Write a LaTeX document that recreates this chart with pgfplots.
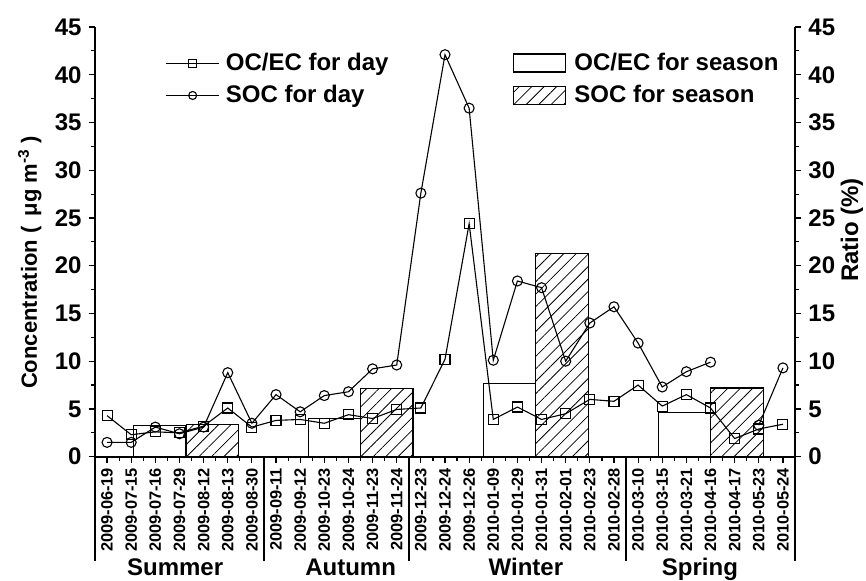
\documentclass[border=0pt]{standalone}
\usepackage{pgfplots}
\pgfplotsset{compat=1.18}
\usepackage{fontspec}
\setmainfont{Liberation Sans}
\usetikzlibrary{patterns.meta}
\begin{document}
\begin{tikzpicture}
\useasboundingbox (-47.5pt,-62.15pt) rectangle (385.5pt,228.35pt);
\pgfplotsset{
  common/.style={
    scale only axis, width=350pt, height=214.85pt,
    at={(0,0)}, anchor=south west,
    xmin=-0.5, xmax=28.5, ymin=0, ymax=45,
    ytick={0,5,...,45}, minor y tick num=1,
    tick align=outside,
    major tick length=3.2pt, minor tick length=2pt,
    tick style={line width=0.6pt, black},
    axis line style={line width=1pt, -},
    yticklabel style={font=\bfseries\fontsize{12}{14}\selectfont},
    /pgf/number format/assume math mode=true,
    clip=false,
  }
}
\begin{axis}[common,
  axis x line*=bottom, axis y line*=left,
  xtick={0,...,28},
  xticklabels={2009-06-19,2009-07-15,2009-07-16,2009-07-29,2009-08-12,2009-08-13,2009-08-30,2009-09-11,2009-09-12,2009-10-23,2009-10-24,2009-11-23,2009-11-24,2009-12-23,2009-12-24,2009-12-26,2010-01-09,2010-01-29,2010-01-31,2010-02-01,2010-02-23,2010-02-28,2010-03-10,2010-03-15,2010-03-21,2010-04-16,2010-04-17,2010-05-23,2010-05-24},
  minor x tick num=1,
  xticklabel style={rotate=90, anchor=east, font=\bfseries\fontsize{8.2}{9}\selectfont, inner sep=2.2pt},
  extra x ticks={-0.5,6.5,12.5,21.5,28.5},
  extra x tick labels={},
  extra x tick style={major tick length=52pt, tick style={line width=1pt}},
  ylabel={Concentration\hspace{0.3em}(\hspace{0.45em}μg m\textsuperscript{-3}\hspace{0.25em})},
  ylabel style={at={(rel axis cs:-0.093,0.452)}, anchor=center, font=\bfseries\fontsize{11}{13}\selectfont},
  legend style={at={(rel axis cs:0.596,0.95)}, anchor=north west, draw=none, fill=none,
    font=\bfseries\fontsize{12}{14}\selectfont, inner sep=0pt, row sep=2pt, cells={anchor=west},
    /tikz/every odd column/.append style={column sep=2pt}},
  legend image code/.code={\draw[#1, line width=0.6pt] (0pt,-4.5pt) rectangle (26.3pt,4.5pt);},
]
\addplot[ybar, bar width=2.17, bar shift=0pt, draw=black, line width=0.6pt, fill=none]
  coordinates {(2.18,3.25) (9.43,4.0) (16.68,7.68) (23.93,4.6)};
\addlegendentry{OC/EC for season}
\addplot[ybar, bar width=2.17, bar shift=0pt, draw=black, line width=0.6pt,
  pattern={Lines[angle=45,distance=4.4pt,line width=0.4pt]}, pattern color=black]
  coordinates {(4.36,3.4) (11.59,7.16) (18.85,21.3) (26.1,7.2)};
\addlegendentry{SOC for season}
\node[font=\bfseries\fontsize{12}{14}\selectfont, anchor=base, yshift=-59.5pt] at (axis cs:2.82,0) {Summer};
\node[font=\bfseries\fontsize{12}{14}\selectfont, anchor=base, yshift=-59.5pt] at (axis cs:10.09,0) {Autumn};
\node[font=\bfseries\fontsize{12}{14}\selectfont, anchor=base, yshift=-59.5pt] at (axis cs:17.35,0) {Winter};
\node[font=\bfseries\fontsize{12}{14}\selectfont, anchor=base, yshift=-59.5pt] at (axis cs:24.56,0) {Spring};
\end{axis}
\begin{axis}[common,
  axis x line=none, axis y line*=right,
  ylabel={Ratio (\%)},
  ylabel style={at={(rel axis cs:1.0814,0.5276)}, anchor=center, font=\bfseries\fontsize{12}{14}\selectfont},
  unbounded coords=jump,
  legend style={at={(rel axis cs:0.1,0.95)}, anchor=north west, draw=none, fill=none,
    font=\bfseries\fontsize{12}{14}\selectfont, inner sep=0pt, row sep=2pt, cells={anchor=west},
    /tikz/every odd column/.append style={column sep=1pt}},
  legend image code/.code={\draw[mark repeat=2, mark phase=2, #1, mark size=2pt] plot coordinates {(0pt,0pt) (13.35pt,0pt) (26.7pt,0pt)};},
]
\addplot[black, line width=0.55pt, mark=square, mark size=2.5pt] table {
x y
0 4.3
1 2.3
2 2.6
3 2.5
4 3.2
5 5.1
6 3.1
7 3.8
8 3.9
9 3.5
10 4.4
11 4.0
12 4.95
13 5.1
14 10.2
15 24.4
16 3.9
17 5.2
18 3.9
19 4.5
20 6.0
21 5.8
22 7.5
23 5.3
24 6.5
25 5.1
26 1.9
27 2.9
28 3.4
};
\addlegendentry{OC/EC for day}
\addplot[black, line width=0.55pt, mark=o, mark size=2.5pt] table {
x y
0 1.5
1 1.5
2 3.1
3 2.4
4 3.1
5 8.8
6 3.5
7 6.5
8 4.7
9 6.4
10 6.8
11 9.2
12 9.6
13 27.6
14 42.1
15 36.5
16 10.1
17 18.4
18 17.7
19 10.0
20 14.0
21 15.7
22 11.9
23 7.3
24 8.9
25 9.9
26 nan
27 3.3
28 9.3
};
\addlegendentry{SOC for day}
\end{axis}
\end{tikzpicture}
\end{document}
